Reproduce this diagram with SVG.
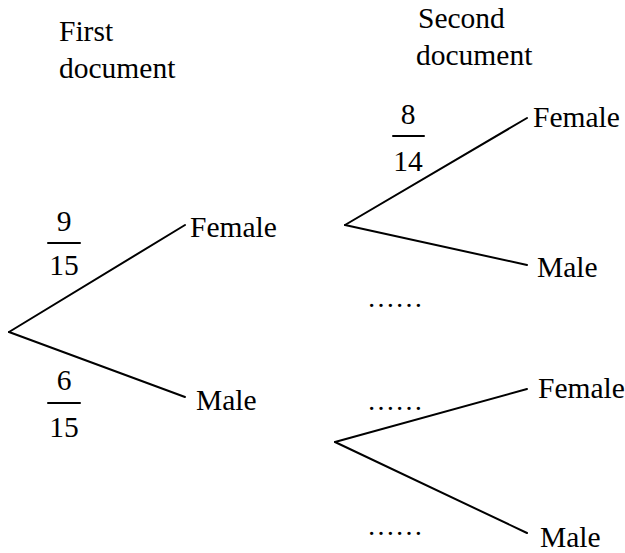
<svg xmlns="http://www.w3.org/2000/svg" width="625" height="553" viewBox="0 0 625 553">
<defs>
<style>
line{stroke:#000;stroke-width:2;stroke-linecap:round}
</style>
</defs>
<rect width="625" height="553" fill="#fff"/>
<g id="headers">
<text x="59" y="41" font-family="Liberation Serif" font-size="29.5">First</text>
<text x="59" y="78" font-family="Liberation Serif" font-size="29.5">document</text>
<text x="418" y="28" font-family="Liberation Serif" font-size="29.5">Second</text>
<text x="416" y="65" font-family="Liberation Serif" font-size="29.5">document</text>
</g>
<g id="connectors">
<line x1="9" y1="332" x2="185" y2="225"/>
<line x1="9" y1="332" x2="185" y2="397"/>
<line x1="345" y1="225" x2="527" y2="118"/>
<line x1="345" y1="225" x2="527" y2="265"/>
<line x1="335" y1="442" x2="527" y2="389"/>
<line x1="335" y1="442" x2="527" y2="533"/>
</g>
<g id="p-9-15">
<text x="64" y="231" font-family="Liberation Serif" font-size="29.5" text-anchor="middle">9</text>
<line x1="48" y1="243" x2="80" y2="243"/>
<text x="64" y="275" font-family="Liberation Serif" font-size="29.5" text-anchor="middle">15</text>
</g>
<g id="p-6-15">
<text x="64" y="390" font-family="Liberation Serif" font-size="29.5" text-anchor="middle">6</text>
<line x1="48" y1="403" x2="80" y2="403"/>
<text x="64" y="437" font-family="Liberation Serif" font-size="29.5" text-anchor="middle">15</text>
</g>
<g id="p-8-14">
<text x="408" y="124" font-family="Liberation Serif" font-size="29.5" text-anchor="middle">8</text>
<line x1="393" y1="136" x2="424" y2="136"/>
<text x="408" y="171" font-family="Liberation Serif" font-size="29.5" text-anchor="middle">14</text>
</g>
<g id="n-female1"><text x="190" y="237" font-family="Liberation Serif" font-size="29.5">Female</text></g>
<g id="n-male1"><text x="196" y="410" font-family="Liberation Serif" font-size="29.5">Male</text></g>
<g id="n-female2a"><text x="533" y="127" font-family="Liberation Serif" font-size="29.5">Female</text></g>
<g id="n-male2a"><text x="537" y="277" font-family="Liberation Serif" font-size="29.5">Male</text></g>
<g id="n-female2b"><text x="538" y="398" font-family="Liberation Serif" font-size="29.5">Female</text></g>
<g id="n-male2b"><text x="540" y="547" font-family="Liberation Serif" font-size="29.5">Male</text></g>
<g id="dots">
<text x="367" y="307" font-family="Liberation Serif" font-size="28">……</text>
<text x="367" y="410" font-family="Liberation Serif" font-size="28">……</text>
<text x="367" y="535" font-family="Liberation Serif" font-size="28">……</text>
</g>
</svg>
